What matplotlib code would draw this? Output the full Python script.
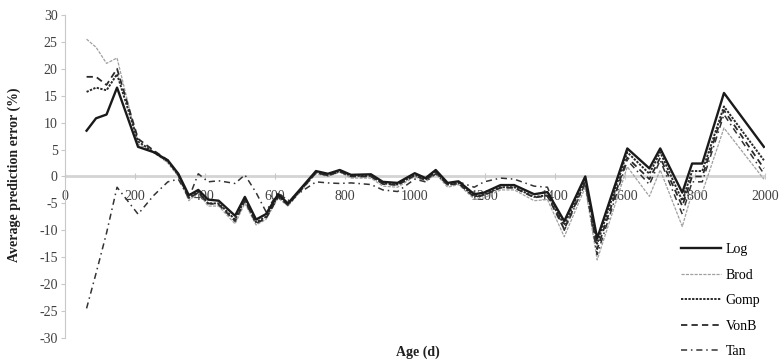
import numpy as np
import matplotlib
matplotlib.use("Agg")
import matplotlib.pyplot as plt

# age (d) at each plotted vertex
ages = [63, 90, 120, 150, 210, 255, 295, 325, 355, 382, 410, 440, 487, 515, 547,
        575, 610, 638, 718, 752, 786, 818, 875, 909, 951, 1000, 1031, 1060, 1094,
        1125, 1170, 1198, 1245, 1284, 1341, 1379, 1427, 1487, 1521, 1607, 1670,
        1701, 1764, 1792, 1821, 1883, 1997]

# average prediction error (%) per model
log_err = [8.5, 10.8, 11.5, 16.5, 5.5, 4.5, 3.0, 0.5, -3.5, -2.5, -4.3, -4.5, -7.3, -3.8, -8.0,
           -7.0, -3.3, -5.0, 1.0, 0.5, 1.2, 0.3, 0.4, -1.0, -1.2, 0.6, -0.3, 1.2, -1.2,
           -0.9, -3.3, -3.0, -1.6, -1.6, -3.3, -2.9, -8.3, 0.0, -11.5, 5.2, 1.5,
           5.2, -3.0, 2.4, 2.4, 15.5, 5.5]
brod_err = [25.5, 24.0, 21.0, 22.0, 6.0, 4.5, 2.5, 0.0, -4.5, -3.0, -5.5, -5.5, -8.8, -5.0, -9.0,
            -8.0, -4.0, -5.5, 0.5, 0.0, 0.8, -0.3, -0.3, -1.8, -2.0, 0.0, -1.0, 0.5, -2.0,
            -1.5, -4.2, -4.0, -2.5, -2.5, -4.5, -4.3, -11.2, -2.0, -15.5, 1.8, -3.7,
            1.2, -9.3, -3.0, -3.0, 9.0, -0.5]
gomp_err = [15.7, 16.5, 16.0, 19.0, 6.5, 4.5, 2.8, 0.3, -4.0, -2.8, -5.0, -5.0, -8.0, -4.3, -8.5,
            -7.5, -3.6, -5.2, 0.8, 0.2, 1.0, 0.1, 0.1, -1.3, -1.5, 0.3, -0.6, 0.9, -1.5,
            -1.2, -3.7, -3.4, -2.0, -2.0, -3.8, -3.5, -9.0, -0.5, -12.5, 4.5, 0.5,
            4.5, -4.5, 1.0, 1.0, 13.0, 3.0]
vonb_err = [18.5, 18.5, 17.0, 20.0, 7.0, 4.8, 3.0, 0.3, -4.0, -3.0, -5.0, -5.2, -8.3, -4.5, -8.7,
            -7.8, -3.8, -5.3, 0.7, 0.2, 0.9, 0.0, 0.0, -1.4, -1.6, 0.2, -0.7, 0.8, -1.6,
            -1.3, -3.8, -3.5, -2.1, -2.1, -3.9, -3.6, -9.8, -1.0, -13.5, 3.5, -0.5,
            3.5, -5.5, 0.0, 0.0, 12.3, 1.5]
tan_err = [-24.5, -18.0, -10.5, -2.0, -7.0, -3.5, -1.0, -0.5, -4.0, 0.5, -1.0, -0.8, -1.3, 0.3, -3.0,
           -6.5, -3.0, -4.5, -1.0, -1.2, -1.3, -1.2, -1.5, -2.5, -2.8, -0.5, -1.0, 0.5, -1.5,
           -1.0, -2.0, -1.0, -0.3, -0.5, -1.8, -2.0, -10.0, -1.3, -14.5, 3.0, -1.5,
           3.0, -7.0, -1.0, -1.0, 11.5, 0.5]

plt.rcParams["font.family"] = ["Liberation Serif", "DejaVu Serif"]
plt.rcParams["axes.unicode_minus"] = False

fig = plt.figure(figsize=(7.8, 3.61), dpi=100)
ax = fig.add_axes([0.0827, 0.0637, 0.898, 0.895])

ax.axhline(0, color="#d4d4d4", lw=2.0, zorder=1)

ax.plot(ages, log_err, color="#1a1a1a", lw=1.7, label="Log", zorder=5)
ax.plot(ages, brod_err, color="#a0a0a0", lw=0.9, ls=(0, (2.5, 1.0)), label="Brod", zorder=3)
ax.plot(ages, gomp_err, color="#2a2a2a", lw=1.4, ls=(0, (1.2, 0.7)), label="Gomp", zorder=4)
ax.plot(ages, vonb_err, color="#2a2a2a", lw=1.3, ls=(0, (3.5, 2.3)), label="VonB", zorder=4)
ax.plot(ages, tan_err, color="#333333", lw=1.1, ls=(0, (4, 2.5, 1, 2.5)), label="Tan", zorder=4)

ax.set_xlim(0, 2000)
ax.set_ylim(-30, 30)
ax.set_yticks(np.arange(-30, 31, 5))
ax.set_xticks(np.arange(0, 2001, 200))

ax.spines["top"].set_visible(False)
ax.spines["right"].set_visible(False)
ax.spines["left"].set_color("#c8c8c8")
ax.spines["bottom"].set_position(("data", 0))
ax.spines["bottom"].set_visible(False)

ax.tick_params(axis="y", direction="out", length=3, color="#c8c8c8",
               labelsize=10, labelcolor="#404040", pad=2)
ax.tick_params(axis="x", direction="inout", length=5, color="#c8c8c8",
               labelsize=10, labelcolor="#404040", pad=7)

fig.text(0.018, 0.515, "Average prediction error (%)", rotation=90, ha="center",
         va="center", fontsize=10, fontweight="bold", color="#202020")
fig.text(0.536, 0.025, "Age (d)", ha="center", va="center", fontsize=10,
         fontweight="bold", color="#202020")

ax.legend(loc="upper left", bbox_to_anchor=(0.873, 0.326), bbox_transform=fig.transFigure,
          frameon=False, fontsize=10, handlelength=2.9, handletextpad=0.3,
          labelspacing=0.9, borderpad=0, borderaxespad=0)

fig.savefig("out.png", dpi=100)
